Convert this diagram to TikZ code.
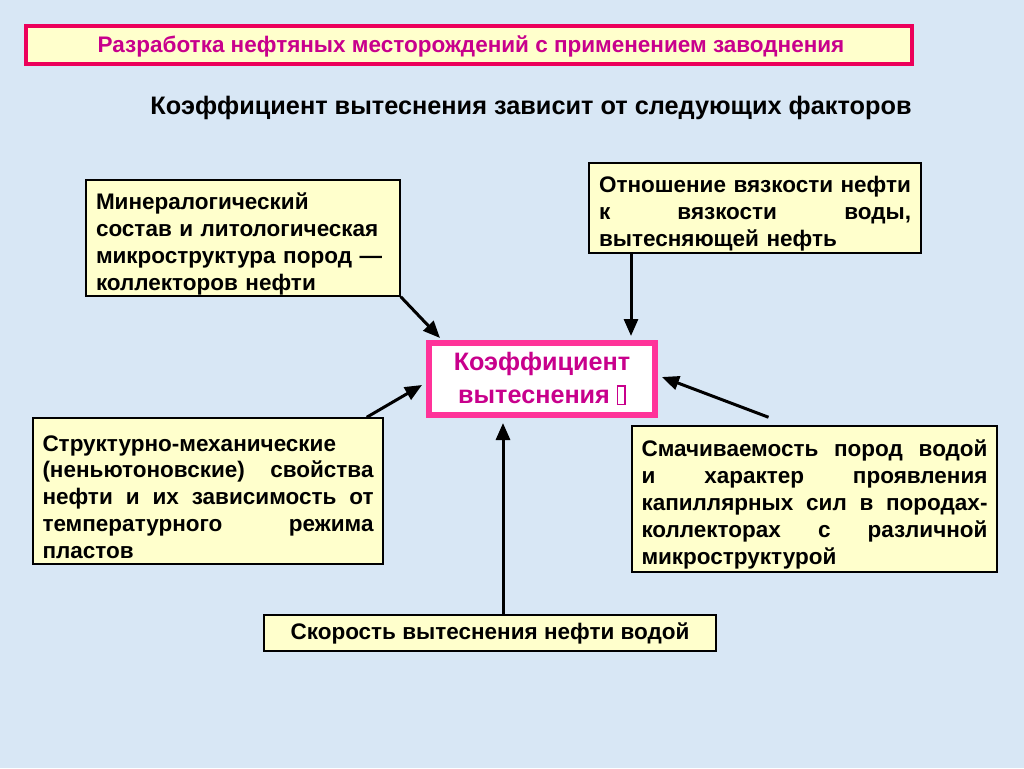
\documentclass[tikz,border=0pt]{standalone}
\usepackage{fontspec}
\setmainfont{Liberation Sans}
\usetikzlibrary{arrows.meta,calc}
\definecolor{bg}{RGB}{216,231,245}
\definecolor{ylw}{RGB}{255,255,204}
\definecolor{ttlborder}{RGB}{236,0,90}
\definecolor{ctrborder}{RGB}{255,51,153}
\definecolor{mag}{RGB}{200,0,140}
% justified line of given width; words separated by \hfill
\newcommand{\jl}[2]{\leavevmode\hbox to #1{#2}}
% top strut pushing the text block a little down
\newcommand{\tp}{\rule{0pt}{28pt}}
\newcommand{\missingglyph}{{\setlength\fboxsep{0pt}\setlength\fboxrule{1.4pt}\fbox{\rule{0pt}{0.68em}\hspace{0.24em}}}}
\begin{document}
\begin{tikzpicture}[x=1pt,y=-1pt,
  ybox/.style={draw=black, line width=1.5pt, fill=ylw, inner sep=0pt,
    font=\bfseries\fontsize{22.5}{26.9}\selectfont},
  tbox/.style={ybox, align=left},
  arr/.style={line width=3pt, -{Triangle[length=17pt,width=14pt]}}]
\useasboundingbox (0,0) rectangle (1024,768);
\fill[bg] (0,0) rectangle (1024,768);

% title
\node[draw=ttlborder, line width=4pt, fill=ylw, minimum width=886pt, minimum height=38pt,
  inner sep=0pt] (ttlbox) at (469,45) {};
\node[inner sep=0pt, text=mag, font=\bfseries\fontsize{22.5}{26}\selectfont] (ttl) at (471,46)
  {Разработка нефтяных месторождений с применением заводнения};

% subtitle
\node[font=\bfseries\fontsize{25.3}{28}\selectfont, inner sep=0pt] (sub) at (531,108)
  {Коэффициент вытеснения зависит от следующих факторов};

% center
\node[draw=ctrborder, line width=6pt, fill=white, minimum width=226pt, minimum height=72pt,
  inner sep=0pt, text=mag, align=center, font=\bfseries\fontsize{25.2}{33}\selectfont] (ctr) at (542,379)
  {Коэффициент\\вытеснения \missingglyph};

% factor boxes
\node[tbox, minimum width=314pt, minimum height=116pt, text width=294pt] (min) at (243,238)
  {\tp Минералогический\\состав и литологическая\\микроструктура пород —\\коллекторов нефти};

\node[tbox, minimum width=332pt, minimum height=90pt, text width=312pt] (vis) at (755,208)
  {\jl{312pt}{\tp Отношение\hfill вязкости\hfill нефти}\\
   \jl{312pt}{к\hfill вязкости\hfill воды,}\\
   вытесняющей нефть};

\node[tbox, minimum width=350pt, minimum height=146pt, text width=331pt] (str) at (208,491)
  {\tp Структурно-механические\\
   \jl{331pt}{(неньютоновские)\hfill свойства}\\
   \jl{331pt}{нефти\hfill и\hfill их\hfill зависимость\hfill от}\\
   \jl{331pt}{температурного\hfill режима}\\
   пластов};

\node[tbox, minimum width=365pt, minimum height=146pt, text width=346pt] (wet) at (814.5,499)
  {\jl{346pt}{\tp Смачиваемость\hfill пород\hfill водой}\\
   \jl{346pt}{и\hfill характер\hfill проявления}\\
   \jl{346pt}{капиллярных\hfill сил\hfill в\hfill породах-}\\
   \jl{346pt}{коллекторах\hfill с\hfill различной}\\
   микроструктурой};

\node[ybox, minimum width=452pt, minimum height=36pt] (spd) at (490,633)
  {Скорость вытеснения нефти водой};

% arrows
\draw[arr] (min.south east) -- ($(ctr.north west)+(14,-2)$);
\coordinate (vs) at ($(vis.south)+(-124,0)$);
\draw[arr] (vs) -- ($(vs |- ctr.north)+(0,-4)$);
\draw[arr] ($(str.north east)+(-17,0)$) -- ($(ctr.west)+(-4,6)$);
\draw[arr] ($(wet.north)+(-46,-8)$) -- ($(ctr.east)+(4,-2)$);
\coordinate (ss) at ($(spd.north)+(13,0)$);
\draw[arr] (ss) -- ($(ss |- ctr.south)+(0,5)$);
\end{tikzpicture}
\end{document}
